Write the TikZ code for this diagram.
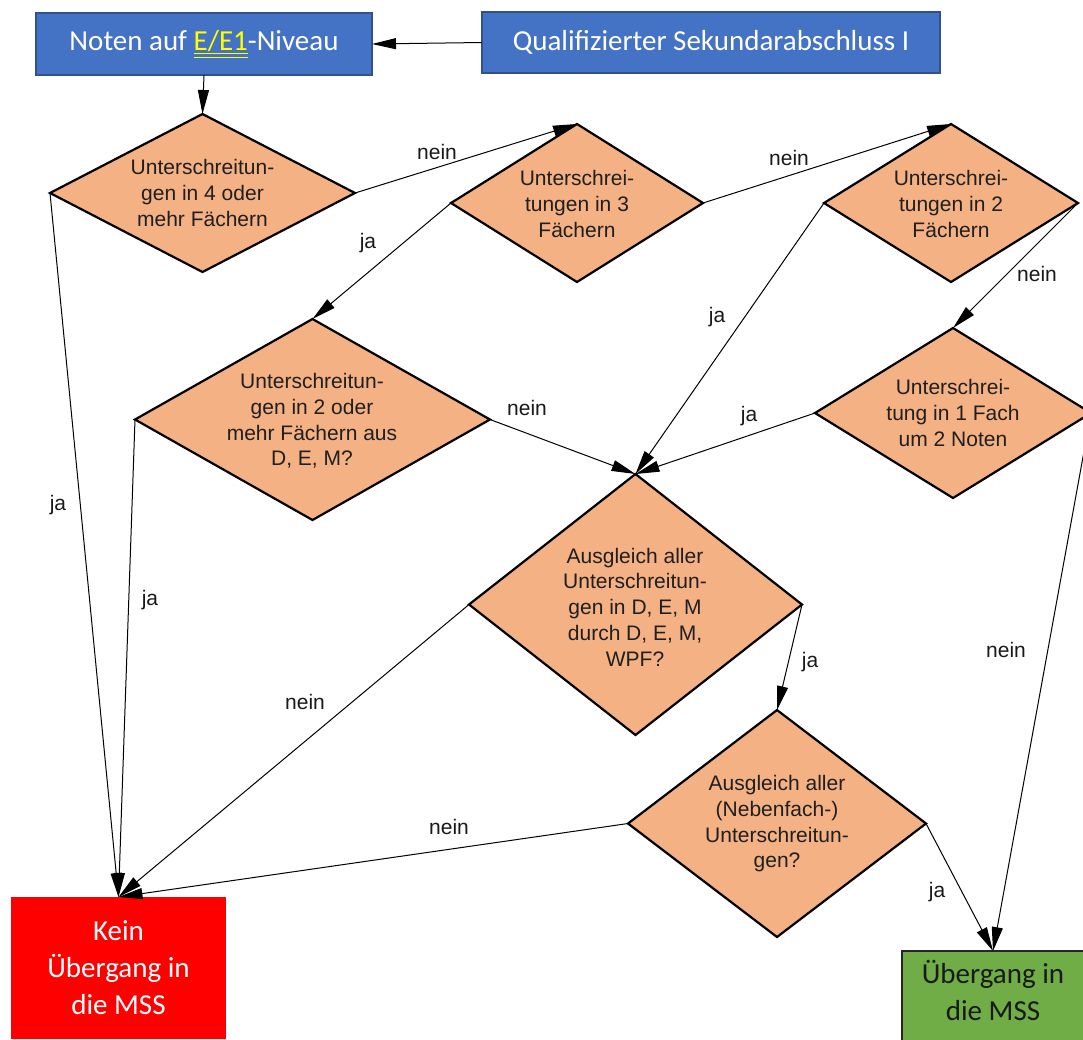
\documentclass[tikz,border=0pt]{standalone}
\usepackage{fontspec}
\setmainfont{Liberation Sans}
\newfontfamily\boxfont{Carlito}
\usetikzlibrary{shapes.geometric,arrows.meta}
\definecolor{boxblue}{HTML}{4472C4}
\definecolor{boxblueborder}{HTML}{2F528F}
\definecolor{dfill}{HTML}{F4B183}
\definecolor{kred}{HTML}{FF0000}
\definecolor{ugreen}{HTML}{70AD47}
\definecolor{ulyellow}{HTML}{FFFF00}
\newcommand\dblul[1]{\setbox0\hbox{#1}\rlap{\raisebox{-3.5pt}{\rule{\wd0}{1.5pt}}}\rlap{\raisebox{-6.5pt}{\rule{\wd0}{0.8pt}}}\box0}
\begin{document}
\begin{tikzpicture}[x=1pt,y=-1pt,
  dia/.style={diamond, draw=black, line width=2.2pt, fill=dfill, inner sep=0pt, outer sep=0pt},
  dtext/.style={font=\fontsize{21}{25.7}\selectfont, align=center, text=black!88, inner sep=0pt},
  bluebox/.style={rectangle, draw=boxblueborder, line width=1.5pt, fill=boxblue, text=white, font=\boxfont\fontsize{29}{37}\selectfont, inner sep=0pt, outer sep=0pt},
  endbox/.style={rectangle, align=center, font=\boxfont\fontsize{29}{37}\selectfont, inner sep=0pt, outer sep=0pt},
  conn/.style={line width=1pt, -{Triangle[length=24pt,width=11pt]}},
  lbl/.style={font=\fontsize{21}{25}\selectfont, inner sep=0pt, text=black!90},
]
\useasboundingbox (0,0) rectangle (1083,1039);
\clip (0,0) rectangle (1083,1039);

% boxes
\node[bluebox, minimum width=336pt, minimum height=62pt] (A) at (204,44)
  {Noten auf \textcolor{ulyellow}{\dblul{E/E1}}-Niveau};
\node[bluebox, minimum width=458pt, minimum height=61pt] (B) at (711,42.5)
  {Qualifizierter Sekundarabschluss I};
\node[endbox, fill=kred, text=white, minimum width=215pt, minimum height=142pt] (K) at (118.5,968)
  {Kein\\Übergang in\\die MSS};
\node[endbox, fill=ugreen, draw=black!85, line width=2pt, text=black!90, minimum width=182pt, minimum height=98pt] (U) at (993,1000) {};
\node[endbox, text=black!90] (Ut) at (993,990) {Übergang in\\die MSS};

% diamonds
\node[dia, minimum width=305pt, minimum height=158pt] (D1) at (202.5,193) {};
\node[dtext] (D1t) at (202.5,193) {Unterschreitun-\\gen in 4 oder\\mehr Fächern};
\node[dia, minimum width=252pt, minimum height=158pt] (D2) at (577,203) {};
\node[dtext] (D2t) at (577,204) {Unterschrei-\\tungen in 3\\Fächern};
\node[dia, minimum width=254pt, minimum height=158pt] (D3) at (951,203) {};
\node[dtext] (D3t) at (951,204) {Unterschrei-\\tungen in 2\\Fächern};
\node[dia, minimum width=355pt, minimum height=201pt] (D4) at (312.5,419.5) {};
\node[dtext] (D4t) at (312,421) {Unterschreitun-\\gen in 2 oder\\mehr Fächern aus\\D, E, M?};
\node[dia, minimum width=276pt, minimum height=170pt] (D5) at (953,413) {};
\node[dtext] (D5t) at (953,413) {Unterschrei-\\tung in 1 Fach\\um 2 Noten};
\node[dia, minimum width=333pt, minimum height=261pt] (D6) at (635.5,604.5) {};
\node[dtext] (D6t) at (635,607) {Ausgleich aller\\Unterschreitun-\\gen in D, E, M\\durch D, E, M,\\WPF?};
\node[dia, minimum width=298pt, minimum height=227pt] (D7) at (777,823.5) {};
\node[dtext] (D7t) at (777,824) {Ausgleich aller\\(Nebenfach-)\\Unterschreitun-\\gen?};

% connectors
\draw[conn] (B.west) -- (A.east);
\draw[conn] (A.south) -- (D1.north);
\draw[conn] (D1.east) -- (D2.north);
\draw[conn] (D1.west) -- (K.north);
\draw[conn] (D2.east) -- (D3.north);
\draw[conn] (D2.west) -- (D4.north);
\draw[conn] (D3.west) -- (D6.north);
\draw[conn] (D3.east) -- (D5.north);
\draw[conn] (D4.east) -- (D6.north);
\draw[conn] (D4.west) -- (K.north);
\draw[conn] (D5.west) -- (D6.north);
\draw[conn] (D5.east) -- (U.north);
\draw[conn] (D6.west) -- (K.north);
\draw[conn] (D6.east) -- (D7.north);
\draw[conn] (D7.west) -- (K.north);
\draw[conn] (D7.east) -- (U.north);

% labels
\node[lbl] (l1) at (437,152) {nein};
\node[lbl] (l2) at (368,243) {ja};
\node[lbl] (l3) at (789,158) {nein};
\node[lbl] (l4) at (717,317) {ja};
\node[lbl] (l5) at (1037,274) {nein};
\node[lbl] (l6) at (527,408) {nein};
\node[lbl] (l7) at (749,416) {ja};
\node[lbl] (l8) at (58,505) {ja};
\node[lbl] (l9) at (150,600) {ja};
\node[lbl] (l10) at (305,702) {nein};
\node[lbl] (l11) at (810,662) {ja};
\node[lbl] (l12) at (449,827) {nein};
\node[lbl] (l13) at (937,892) {ja};
\node[lbl] (l14) at (1006,650) {nein};
\end{tikzpicture}
\end{document}
